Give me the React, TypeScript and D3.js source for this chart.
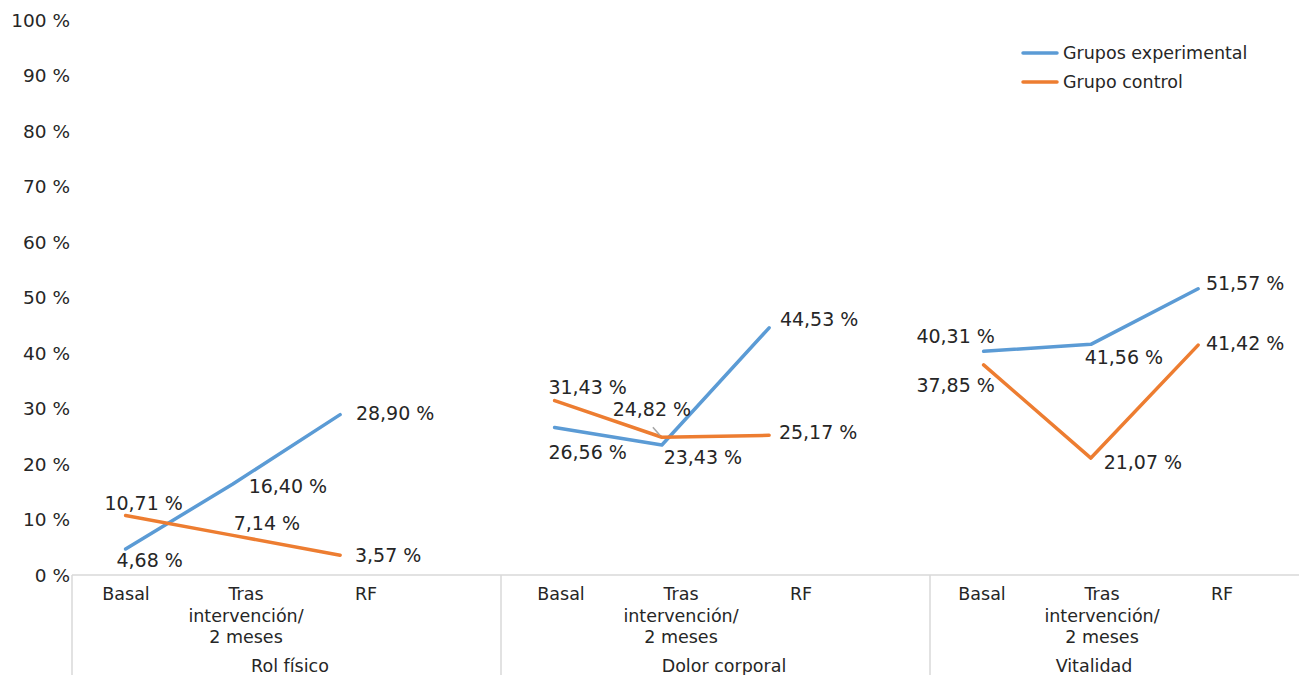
import React from "react";
import * as d3 from "d3";

// Dimensions (SF-36) and the three measurement moments
const groups = ["Rol físico", "Dolor corporal", "Vitalidad"];
const stages = ["Basal", "Tras", "RF"];
const stageLabelLines: string[][] = [["Basal"], ["Tras", "intervención/", "2 meses"], ["RF"]];

// Percentages per group, ordered dimension by dimension, stage by stage
const experimental = [4.68, 16.4, 28.9, 26.56, 23.43, 44.53, 40.31, 41.56, 51.57];
const control = [10.71, 7.14, 3.57, 31.43, 24.82, 25.17, 37.85, 21.07, 41.42];

const yTicks = [0, 10, 20, 30, 40, 50, 60, 70, 80, 90, 100];

// Label placement relative to each point (centre offsets)
const expLabelOffsets: [number, number][] = [
  [24, 11], [55, 2], [55, -2],
  [33, 24], [41, 12], [50, -9],
  [-28, -15], [33, 13], [47, -6],
];
const ctrlLabelOffsets: [number, number][] = [
  [18, -13], [34, -12], [48, 0],
  [33, -14], [-10, -28], [49, -3],
  [-28, 20], [52, 4], [47, -2],
];
// horizontal nudges of the axis text within each dimension block
const stageLabelShift = [0, 6, -2];
const groupLabelCentre = [218, 223, 164];

const W = 1299;
const H = 675;
const BLUE = "#5B9BD5";
const ORANGE = "#ED7D31";
const TEXT = "#262626";
const AXIS = "#D9D9D9";
const FONT = "'DejaVu Sans', sans-serif";

const fmt = (v: number) => v.toFixed(2).replace(".", ",") + " %";

export default function App() {
  const left = 72;
  const groupW = 429;
  const top = 20;
  const bottom = 575;

  const y = d3.scaleLinear().domain([0, 100]).range([bottom, top]);
  const xGroup = d3
    .scaleBand<string>()
    .domain([...groups, "_next"])
    .range([left, left + groupW * 4])
    .paddingInner(0)
    .paddingOuter(0);
  // four slots per dimension; the last one stays empty
  const xSlot = d3
    .scaleBand<string>()
    .domain([...stages, "_gap"])
    .range([0, groupW]);
  const xStageLabel = d3.scalePoint<string>().domain(stages).range([54, 294]);

  const px = (i: number) => {
    const g = groups[Math.floor(i / 3)];
    const s = stages[i % 3];
    return (xGroup(g) as number) + (xSlot(s) as number) + xSlot.bandwidth() / 2;
  };

  const segmentPaths = (vals: number[]) =>
    groups.map((_, g) => {
      const idx = [g * 3, g * 3 + 1, g * 3 + 2];
      const gen = d3
        .line<number>()
        .x((i) => px(i))
        .y((i) => y(vals[i]));
      return gen(idx) as string;
    });

  const series = [
    { name: "Grupos experimental", vals: experimental, color: BLUE, offs: expLabelOffsets },
    { name: "Grupo control", vals: control, color: ORANGE, offs: ctrlLabelOffsets },
  ];

  return (
    <svg
      width={W}
      height={H}
      style={{ position: "absolute", left: 0, top: 0, background: "#fff" }}
      fontFamily={FONT}
    >
      {/* y tick labels */}
      {yTicks.map((t) => (
        <text
          key={t}
          x={70}
          y={y(t)}
          textAnchor="end"
          dominantBaseline="central"
          fontSize={18.5}
          fill={TEXT}
        >
          {t} %
        </text>
      ))}

      {/* category axis frame */}
      <line x1={left} x2={W} y1={bottom} y2={bottom} stroke={AXIS} strokeWidth={1.5} />
      {[...groups, "_next"].map((g) => (
        <line
          key={g}
          x1={xGroup(g)}
          x2={xGroup(g)}
          y1={bottom}
          y2={H}
          stroke={AXIS}
          strokeWidth={1.5}
        />
      ))}

      {/* stage labels and dimension labels */}
      {groups.map((g, gi) => (
        <g key={g} transform={`translate(${xGroup(g)},0)`}>
          {stages.map((s, si) => {
            const cx = (xStageLabel(s) as number) + stageLabelShift[gi];
            return (
              <text key={s} x={cx} y={600} textAnchor="middle" fontSize={17.5} fill={TEXT}>
                {stageLabelLines[si].map((ln, li) => (
                  <tspan key={li} x={cx} dy={li === 0 ? 0 : 21.5}>
                    {ln}
                  </tspan>
                ))}
              </text>
            );
          })}
          <text x={groupLabelCentre[gi]} y={672} textAnchor="middle" fontSize={17.5} fill={TEXT}>
            {g}
          </text>
        </g>
      ))}

      {/* series lines */}
      {series.map((s) =>
        segmentPaths(s.vals).map((d, gi) => (
          <path
            key={s.name + gi}
            d={d}
            fill="none"
            stroke={s.color}
            strokeWidth={3.5}
            strokeLinejoin="round"
            strokeLinecap="round"
          />
        ))
      )}

      {/* leader line for the displaced control label */}
      <line
        x1={px(4) - 9}
        y1={y(control[4]) - 10}
        x2={px(4) - 2}
        y2={y(control[4]) - 2}
        stroke="#A6A6A6"
        strokeWidth={1.5}
      />

      {/* data labels */}
      {series.map((s) =>
        s.vals.map((v, i) => (
          <text
            key={s.name + "-l" + i}
            x={px(i) + s.offs[i][0]}
            y={y(v) + s.offs[i][1]}
            textAnchor="middle"
            dominantBaseline="central"
            fontSize={19}
            fill={TEXT}
          >
            {fmt(v)}
          </text>
        ))
      )}

      {/* legend */}
      {series.map((s, i) => (
        <g key={s.name} transform={`translate(1023,${53 + i * 29})`}>
          <line x1={0} x2={34} y1={0} y2={0} stroke={s.color} strokeWidth={3.5} strokeLinecap="round" />
          <text x={40} y={0} dominantBaseline="central" fontSize={17.5} fill={TEXT}>
            {s.name}
          </text>
        </g>
      ))}
    </svg>
  );
}
